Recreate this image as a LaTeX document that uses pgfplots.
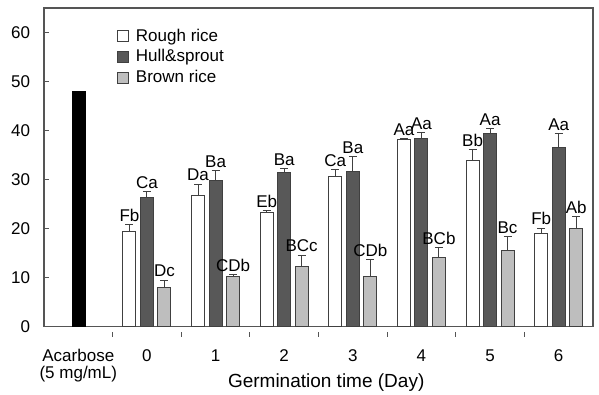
\documentclass[border=0pt]{standalone}
\usepackage{fontspec}
\setmainfont{Liberation Sans}
\usepackage{pgfplots}
\usepackage{pgfplotstable}
\pgfplotsset{compat=1.18}
\definecolor{edge}{HTML}{404040}
\definecolor{hullc}{HTML}{585858}
\definecolor{brownc}{HTML}{BEBEBE}
\definecolor{axc}{HTML}{555555}

\pgfplotstableread{
x y err label
1 19.5 1.4 Fb
2 26.8 2.3 Da
3 23.2 0.5 Eb
4 30.7 1.4 Ca
5 38.1 0.2 Aa
6 33.8 2.3 Bb
7 19.1 1.0 Fb
}\rough
\pgfplotstableread{
x y err label
1 26.4 1.2 Ca
2 29.9 2.0 Ba
3 31.4 0.8 Ba
4 31.6 3.1 Ba
5 38.4 1.2 Aa
6 39.4 1.0 Aa
7 36.5 2.9 Aa
}\hull
\pgfplotstableread{
x y err label
1 8.0 1.5 Dc
2 10.2 0.5 CDb
3 12.3 2.3 BCc
4 10.3 3.4 CDb
5 14.1 2.0 BCb
6 15.6 2.8 Bc
7 20.0 2.5 Ab
}\brown

\pgfplotsset{
  lbl/.style={
    nodes near coords,
    point meta=explicit symbolic,
    visualization depends on={\thisrow{err} \as \err},
    every node near coord/.append style={shift={(axis direction cs:0,\err)}, inner sep=1.5pt, yshift=1pt, font=\fontsize{17}{20}\selectfont, text=black},
    error bars/y dir=plus,
    error bars/y explicit,
    error bars/error bar style={edge, line width=1pt},
    error bars/error mark options={rotate=90, mark size=4pt, line width=1pt, edge},
  }
}

\begin{document}
\fontsize{17}{20}\selectfont
\begin{tikzpicture}
\begin{axis}[
  scale only axis,
  width=549pt, height=318.7pt,
  xmin=-0.5, xmax=7.5,
  ymin=0, ymax=65,
  ytick={0,10,...,60},
  xtick={0,...,7},
  xticklabels={{Acarbose\\(5 mg/mL)},0,1,2,3,4,5,6},
  minor xtick={0.5,1.5,...,6.5},
  major x tick style={draw=none},
  minor x tick style={yshift=-5pt, axc, line width=1pt},
  minor tick length=5pt,
  major tick length=5pt,
  y tick style={axc, line width=1pt},
  tick pos=left,
  axis line style={axc, line width=1.2pt},
  /pgf/number format/assume math mode=true,
  yticklabel style={xshift=-8pt},
  xticklabel style={align=center, yshift=-12pt, font=\fontsize{17}{16.5}\selectfont},
  xlabel={Germination time (Day)},
  xlabel style={at={(rel axis cs:0.514,0)}, anchor=base, yshift=-60.3pt, font=\fontsize{19}{22}\selectfont},
  ybar,
  bar width=13pt,
  legend style={at={(rel axis cs:0.13,0.945)}, anchor=north west, draw=none, fill=none,
    row sep=2pt, inner sep=1pt},
  legend cell align=left,
  legend image code/.code={\draw[#1, line width=0.8pt] (0pt,-5.5pt) rectangle (11pt,5.5pt); \path[draw=none, fill=none] (11pt,0) rectangle (17pt,0.1pt);},
]
\coordinate (O) at (rel axis cs:0,0);
\addplot[fill=black, draw=black, bar shift=0pt, forget plot] coordinates {(0,48.1)};
\addplot[fill=white, draw=edge, line width=1pt, bar shift=-17.5pt, lbl] table[x=x, y=y, y error=err, meta=label] {\rough};
\addlegendentry{Rough rice}
\addplot[fill=hullc, draw=edge, line width=1pt, bar shift=0pt, lbl] table[x=x, y=y, y error=err, meta=label] {\hull};
\addlegendentry{Hull\&sprout}
\addplot[fill=brownc, draw=edge, line width=1pt, bar shift=17.5pt, lbl] table[x=x, y=y, y error=err, meta=label] {\brown};
\addlegendentry{Brown rice}
\end{axis}
\pgfresetboundingbox
\path (O) ++(-44pt,-67.3pt) rectangle ++(599pt,394pt);
\end{tikzpicture}
\end{document}
